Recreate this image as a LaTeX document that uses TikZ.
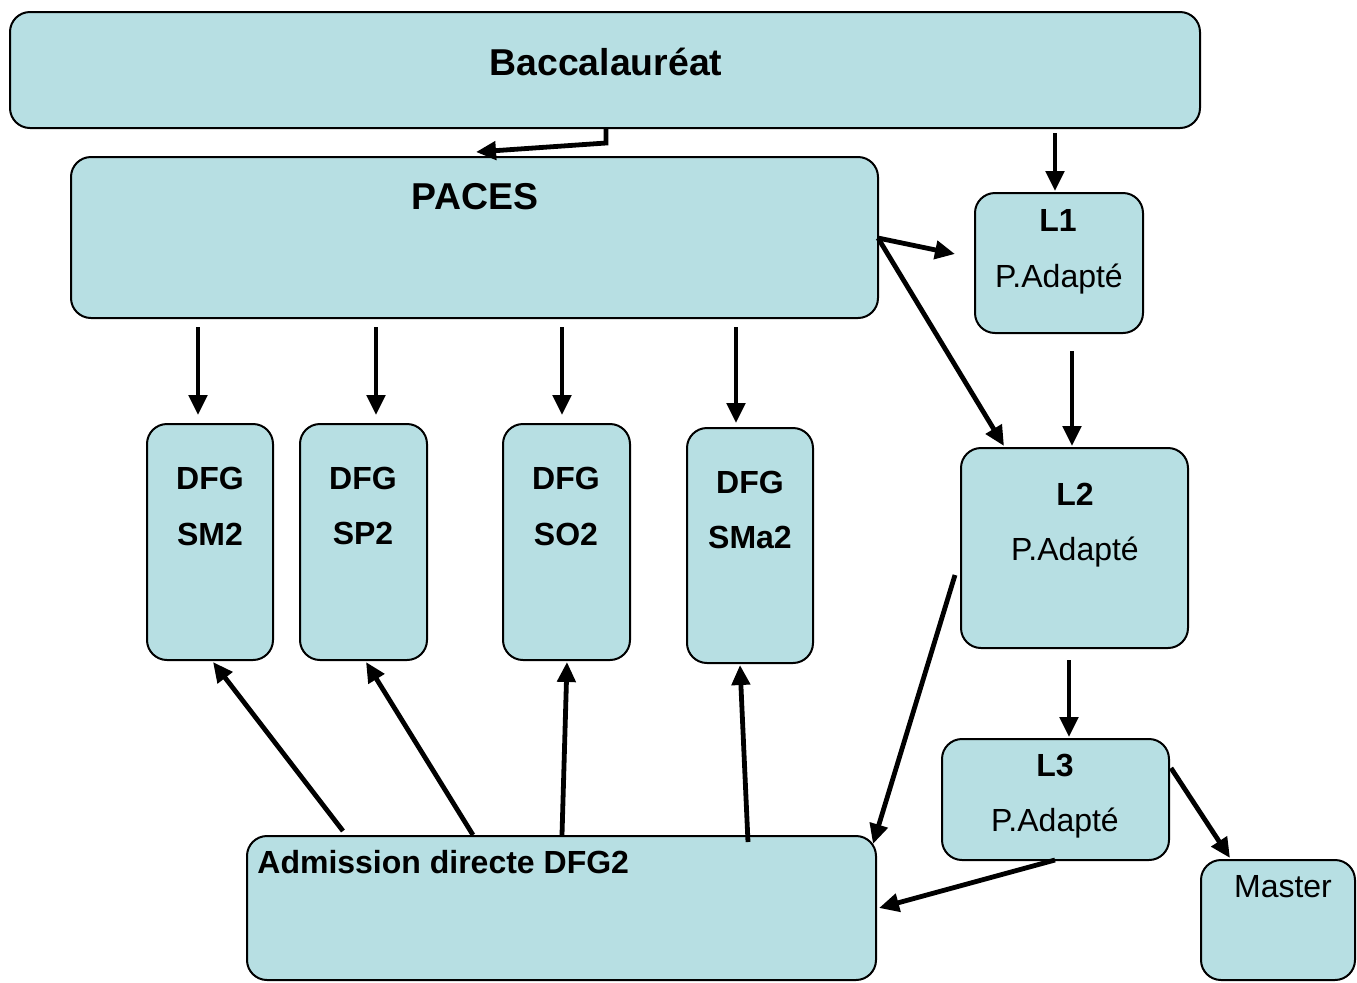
\documentclass[tikz,border=0pt]{standalone}
\usepackage{fontspec}
\setmainfont{Liberation Sans}
\usetikzlibrary{arrows.meta}
\definecolor{boxfill}{RGB}{183,223,227}
\tikzset{
  box/.style={draw=black, fill=boxfill, line width=1pt, rounded corners=10pt, inner sep=0pt},
  big/.style={font=\fontsize{18.7}{20}\selectfont\bfseries, anchor=base, inner sep=0pt},
  bold/.style={font=\fontsize{16}{18}\selectfont\bfseries, anchor=base, inner sep=0pt},
  norm/.style={font=\fontsize{16}{18}\selectfont, anchor=base, inner sep=0pt},
  arr/.style={line width=2.4pt, -{Triangle[length=10pt,width=9pt]}},
}
\begin{document}
\begin{tikzpicture}[x=0.5pt,y=-0.5pt]
\useasboundingbox (0,0) rectangle (1357,982);
% boxes
\node[box, minimum width=595pt, minimum height=58pt] (bac) at (605,70) {};
\node[box, minimum width=403.5pt, minimum height=80.5pt] (paces) at (474.5,237.5) {};
\node[box, minimum width=84pt, minimum height=70pt] (l1) at (1059,263) {};
\node[box, minimum width=113.5pt, minimum height=100pt] (l2) at (1074.5,548) {};
\node[box, minimum width=113.5pt, minimum height=60.5pt] (l3) at (1055.5,799.5) {};
\node[box, minimum width=77pt, minimum height=60pt] (master) at (1278,920) {};
\node[box, minimum width=63pt, minimum height=118pt] (sm2) at (210,542) {};
\node[box, minimum width=63.5pt, minimum height=118pt] (sp2) at (363.5,542) {};
\node[box, minimum width=63.5pt, minimum height=118pt] (so2) at (566.5,542) {};
\node[box, minimum width=63pt, minimum height=117.5pt] (sma2) at (750,545.5) {};
\node[box, minimum width=314.5pt, minimum height=72pt] (adm) at (561.5,908) {};
% texts
\node[big] (tbac) at (606,75) {Baccalauréat};
\node[big] (tpaces) at (475,209) {PACES};
\node[bold] (tl1) at (1058,231) {L1};
\node[norm] (tl1b) at (1059,287) {P.Adapté};
\node[bold] (tl2) at (1075,505) {L2};
\node[norm] (tl2b) at (1075,560) {P.Adapté};
\node[bold] (tl3) at (1055,776) {L3};
\node[norm] (tl3b) at (1055,831) {P.Adapté};
\node[norm] (tmaster) at (1283,897) {Master};
\node[bold] (tsm2a) at (210,489) {DFG};
\node[bold] (tsm2b) at (210,545) {SM2};
\node[bold] (tsp2a) at (363,489) {DFG};
\node[bold] (tsp2b) at (363,544) {SP2};
\node[bold] (tso2a) at (566,489) {DFG};
\node[bold] (tso2b) at (566,545) {SO2};
\node[bold] (tsma2a) at (750,493) {DFG};
\node[bold] (tsma2b) at (750,548) {SMa2};
\node[bold, anchor=base west] (tadm) at (257,873) {Admission directe DFG2};
% connector end points
\coordinate (bacS) at (606,128);
\coordinate (bacK) at (606,143);
\coordinate (pacesN) at (476,152);
\coordinate (bacR) at (1055,133);
\coordinate (l1N) at (1055,191);
\coordinate (pacesE) at (878,238);
\coordinate (l1W) at (955,254);
\coordinate (l2NW) at (1004,446);
\coordinate (p1) at (198,327); \coordinate (d1) at (198,415);
\coordinate (p2) at (376,327); \coordinate (d2) at (376,415);
\coordinate (p3) at (562,327); \coordinate (d3) at (562,415);
\coordinate (p4) at (736,327); \coordinate (d4) at (736,423);
\coordinate (l1S) at (1072,351); \coordinate (l2N) at (1072,446);
\coordinate (l2S) at (1069,660); \coordinate (l3N) at (1069,737);
\coordinate (l2W) at (955,575); \coordinate (admNE) at (873,844);
\coordinate (l3S) at (1055,860); \coordinate (admE) at (879,908);
\coordinate (l3E) at (1171,768); \coordinate (masterN) at (1230,858);
\coordinate (a1) at (343,831); \coordinate (e1) at (213,662);
\coordinate (a2) at (473,835); \coordinate (e2) at (366,662);
\coordinate (a3) at (562,835); \coordinate (e3) at (567,662);
\coordinate (a4) at (748,842); \coordinate (e4) at (740,665);
% connectors
\draw[arr] (bacS) -- (bacK) -- (pacesN);
\draw[arr] (bacR) -- (l1N);
\draw[arr] (pacesE) -- (l1W);
\draw[arr] (pacesE) -- (l2NW);
\draw[arr] (p1) -- (d1);
\draw[arr] (p2) -- (d2);
\draw[arr] (p3) -- (d3);
\draw[arr] (p4) -- (d4);
\draw[arr] (l1S) -- (l2N);
\draw[arr] (l2S) -- (l3N);
\draw[arr] (l2W) -- (admNE);
\draw[arr] (l3S) -- (admE);
\draw[arr] (l3E) -- (masterN);
\draw[arr] (a1) -- (e1);
\draw[arr] (a2) -- (e2);
\draw[arr] (a3) -- (e3);
\draw[arr] (a4) -- (e4);
\end{tikzpicture}
\end{document}
